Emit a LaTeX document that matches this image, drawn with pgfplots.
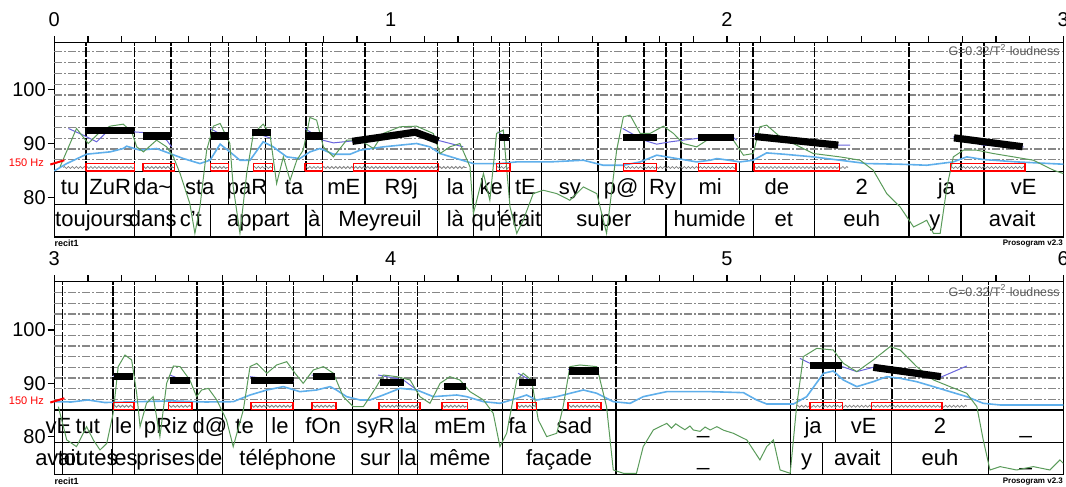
\documentclass[border=0pt]{standalone}
\usepackage{fontspec}
\setmainfont{Liberation Sans}
\usepackage{pgfplots}
\pgfplotsset{compat=1.18}
\usetikzlibrary{decorations.pathmorphing}
\definecolor{lblue}{RGB}{95,175,235}
\definecolor{pblue}{RGB}{105,100,220}
\definecolor{igreen}{RGB}{90,155,90}
\definecolor{gridg}{RGB}{135,135,135}
\newcommand\tierfont{\fontsize{11}{13}\selectfont}
\newcommand{\lab}[4]{\path (axis cs:#1,#3) -- (axis cs:#2,#3) node[midway,anchor=base,font=\tierfont,inner sep=0pt]{#4};}
\pgfplotsset{
  panel/.style={
    scale only axis, width=504.5pt, anchor=south west, clip=false,
    axis line style={line width=0.65pt}, every tick/.style={black,line width=0.6pt},
    xtick pos=right, xticklabel pos=right, ytick pos=left,
    minor x tick num=9, tick align=outside,
    major tick length=3.3pt, minor tick length=3.3pt,
    ytick={80,90,100},
    /pgf/number format/assume math mode=true,
    ticklabel style={font=\fontsize{10}{12}\selectfont},
    xticklabel style={yshift=1.3pt},
    yticklabel style={inner xsep=0.8pt},
  },
  gridl/.style={gridg, line width=0.6pt, dash pattern=on 4pt off 1pt on 1pt off 1pt, unbounded coords=jump},
  vdash/.style={black, line width=0.75pt, dash pattern=on 5pt off 0.7pt, unbounded coords=jump},
  tier/.style={black, line width=0.65pt, unbounded coords=jump},
  stylz/.style={black, line width=3.6pt, line cap=butt},
  nucl/.style={red, line width=0.8pt, unbounded coords=jump},
  zz/.style={gray, line width=0.4pt, decorate, decoration={zigzag, amplitude=0.5pt, segment length=2pt}},
}
\begin{document}
\begin{tikzpicture}
\useasboundingbox (0,0) rectangle (533pt,243.5pt);
% ================= TOP PANEL =================
\begin{axis}[panel, at={(27.15pt,125pt)}, height=97.15pt,
  xmin=0, xmax=3, ymin=72.66, ymax=108.7, xtick={0,1,2,3}]
\addplot[gridl] coordinates {(0,87)(3,87)(3,nan) (0,89)(3,89)(3,nan) (0,91)(3,91)(3,nan) (0,93)(3,93)(3,nan) (0,95)(3,95)(3,nan) (0,97)(3,97)(3,nan) (0,99)(3,99)(3,nan) (0,101)(3,101)(3,nan) (0,103)(3,103)(3,nan) (0,105)(3,105)(3,nan) (0,107)(3,107)};
\addplot[vdash] coordinates {(0.094,84.86)(0.094,108.7)(0.094,nan) (0.238,84.86)(0.238,108.7)(0.238,nan) (0.347,84.86)(0.347,108.7)(0.347,nan) (0.465,84.86)(0.465,108.7)(0.465,nan) (0.518,84.86)(0.518,108.7)(0.518,nan) (0.628,84.86)(0.628,108.7)(0.628,nan) (0.748,84.86)(0.748,108.7)(0.748,nan) (0.798,84.86)(0.798,108.7)(0.798,nan) (0.924,84.86)(0.924,108.7)(0.924,nan) (1.139,84.86)(1.139,108.7)(1.139,nan) (1.246,84.86)(1.246,108.7)(1.246,nan) (1.323,84.86)(1.323,108.7)(1.323,nan) (1.353,84.86)(1.353,108.7)(1.353,nan) (1.449,84.86)(1.449,108.7)(1.449,nan) (1.617,84.86)(1.617,108.7)(1.617,nan) (1.754,84.86)(1.754,108.7)(1.754,nan) (1.819,84.86)(1.819,108.7)(1.819,nan) (1.863,84.86)(1.863,108.7)(1.863,nan) (2.037,84.86)(2.037,108.7)(2.037,nan) (2.078,84.86)(2.078,108.7)(2.078,nan) (2.260,84.86)(2.260,108.7)(2.260,nan) (2.541,84.86)(2.541,108.7)(2.541,nan) (2.696,84.86)(2.696,108.7)(2.696,nan) (2.764,84.86)(2.764,108.7)};
% tiers
\addplot[tier] coordinates {(0,84.86)(3,84.86)(3,nan) (0,78.7)(3,78.7)};
\addplot[tier] coordinates {(0.094,84.86)(0.094,78.7)(0.094,nan) (0.238,84.86)(0.238,78.7)(0.238,nan) (0.347,84.86)(0.347,78.7)(0.347,nan) (0.518,84.86)(0.518,78.7)(0.518,nan) (0.628,84.86)(0.628,78.7)(0.628,nan) (0.798,84.86)(0.798,78.7)(0.798,nan) (0.924,84.86)(0.924,78.7)(0.924,nan) (1.139,84.86)(1.139,78.7)(1.139,nan) (1.246,84.86)(1.246,78.7)(1.246,nan) (1.353,84.86)(1.353,78.7)(1.353,nan) (1.449,84.86)(1.449,78.7)(1.449,nan) (1.617,84.86)(1.617,78.7)(1.617,nan) (1.754,84.86)(1.754,78.7)(1.754,nan) (1.863,84.86)(1.863,78.7)(1.863,nan) (2.037,84.86)(2.037,78.7)(2.037,nan) (2.260,84.86)(2.260,78.7)(2.260,nan) (2.541,84.86)(2.541,78.7)(2.541,nan) (2.764,84.86)(2.764,78.7)};
\addplot[tier] coordinates {(0.238,78.7)(0.238,72.66)(0.238,nan) (0.347,78.7)(0.347,72.66)(0.347,nan) (0.465,78.7)(0.465,72.66)(0.465,nan) (0.748,78.7)(0.748,72.66)(0.748,nan) (0.798,78.7)(0.798,72.66)(0.798,nan) (1.139,78.7)(1.139,72.66)(1.139,nan) (1.246,78.7)(1.246,72.66)(1.246,nan) (1.323,78.7)(1.323,72.66)(1.323,nan) (1.449,78.7)(1.449,72.66)(1.449,nan) (1.819,78.7)(1.819,72.66)(1.819,nan) (2.078,78.7)(2.078,72.66)(2.078,nan) (2.260,78.7)(2.260,72.66)(2.260,nan) (2.541,78.7)(2.541,72.66)(2.541,nan) (2.696,78.7)(2.696,72.66)};
\lab{0}{0.094}{80.6}{tu}
\lab{0.094}{0.238}{80.6}{ZuR}
\lab{0.238}{0.347}{80.6}{da\textasciitilde}
\lab{0.347}{0.518}{80.6}{sta}
\lab{0.518}{0.628}{80.6}{paR}
\lab{0.628}{0.798}{80.6}{ta}
\lab{0.798}{0.924}{80.6}{mE}
\lab{0.924}{1.139}{80.6}{R9j}
\lab{1.139}{1.246}{80.6}{la}
\lab{1.246}{1.353}{80.6}{ke}
\lab{1.353}{1.449}{80.6}{tE}
\lab{1.449}{1.617}{80.6}{sy}
\lab{1.617}{1.754}{80.6}{p@}
\lab{1.754}{1.863}{80.6}{Ry}
\lab{1.863}{2.037}{80.6}{mi}
\lab{2.037}{2.260}{80.6}{de}
\lab{2.260}{2.541}{80.6}{2}
\lab{2.541}{2.764}{80.6}{ja}
\lab{2.764}{3}{80.6}{vE}
\lab{0}{0.238}{74.65}{toujours}
\lab{0.238}{0.347}{74.65}{dans}
\lab{0.347}{0.465}{74.65}{c't}
\lab{0.465}{0.748}{74.65}{appart}
\lab{0.748}{0.798}{74.65}{à}
\lab{0.798}{1.139}{74.65}{Meyreuil}
\lab{1.139}{1.246}{74.65}{là}
\lab{1.246}{1.323}{74.65}{qu'}
\lab{1.323}{1.449}{74.65}{était}
\lab{1.449}{1.819}{74.65}{super}
\lab{1.819}{2.078}{74.65}{humide}
\lab{2.078}{2.260}{74.65}{et}
\lab{2.260}{2.541}{74.65}{euh}
\lab{2.541}{2.696}{74.65}{y}
\lab{2.696}{3}{74.65}{avait}
% light blue
\addplot[lblue, line width=0.8pt] coordinates {(0,84.92)(0.037,86.28)(0.096,88.02)(0.166,88.45)(0.205,89.07)(0.215,89.5)(0.255,88.76)(0.304,89.07)(0.344,88.14)(0.384,87.21)(0.433,86.28)(0.463,86.9)(0.493,89.88)(0.522,88.45)(0.552,86.9)(0.582,86.9)(0.621,90.31)(0.651,89.38)(0.691,87.52)(0.730,87.21)(0.760,88.45)(0.790,89.07)(0.830,88.02)(0.879,88.0)(0.909,88.76)(0.978,89.38)(1.077,90.0)(1.117,89.38)(1.147,88.14)(1.196,87.21)(1.246,86.28)(1.325,86.28)(1.375,86.59)(1.474,86.59)(1.573,86.9)(1.632,85.97)(1.692,85.97)(1.742,86.59)(1.791,87.83)(1.851,87.21)(1.910,86.59)(1.950,86.9)(1.970,87.21)(2.039,86.59)(2.078,86.9)(2.118,88.26)(2.168,88.02)(2.257,87.52)(2.336,86.9)(2.415,86.28)(2.515,86.16)(2.594,85.97)(2.673,86.59)(2.713,87.52)(2.762,87.03)(2.862,86.59)(3.0,86.16)};
% purple raw f0
\addplot[pblue, line width=0.5pt, unbounded coords=jump] coordinates {(0.042,92.79)(0.086,91.55)(0.126,90.31)(0.156,92.17)(0.234,92.17)(0.304,91.86)(0.334,90.62)(0.349,89.38)(0.349,nan)
(0.463,92.79)(0.518,90.93)(0.518,nan)
(0.589,92.17)(0.646,90.93)(0.646,nan)
(0.745,92.79)(0.798,90.62)(0.830,90.12)(0.909,90.62)(0.929,90.62)(1.077,92.17)(1.139,90.62)(1.216,89.38)(1.216,nan)
(1.318,92.17)(1.353,90.62)(1.353,nan)
(1.690,92.79)(1.752,90.62)(1.791,89.88)(1.831,90.31)(1.870,90.62)(1.950,91.24)(2.019,91.11)(2.029,90.62)(2.029,nan)
(2.078,91.55)(2.331,89.69)(2.366,89.69)(2.366,nan)
(2.673,91.24)(2.762,89.69)(2.882,89.38)};
% green intensity
\addplot[igreen, line width=0.5pt] coordinates {(0.017,85.67)(0.066,92.79)(0.101,90.0)(0.136,92.17)(0.166,93.22)(0.205,93.59)(0.230,92.17)(0.245,89.38)(0.265,88.45)(0.304,90.62)(0.334,89.38)(0.354,87.52)(0.374,84.43)(0.403,78.85)(0.418,73.33)(0.433,78.23)(0.453,88.76)(0.473,93.22)(0.493,93.72)(0.522,90.0)(0.532,81.95)(0.552,73.33)(0.572,84.43)(0.592,91.86)(0.621,93.59)(0.641,91.86)(0.661,82.57)(0.681,87.52)(0.701,83.19)(0.721,86.9)(0.740,88.76)(0.760,94.83)(0.780,94.33)(0.800,89.38)(0.830,87.52)(0.869,90.62)(0.909,90.62)(0.949,89.07)(0.978,91.86)(1.028,93.10)(1.077,93.22)(1.127,91.86)(1.147,88.14)(1.176,89.38)(1.206,90.0)(1.236,85.67)(1.246,76.99)(1.276,84.43)(1.295,79.47)(1.315,91.86)(1.335,92.48)(1.355,78.23)(1.375,73.33)(1.394,75.76)(1.424,80.71)(1.454,81.33)(1.494,80.71)(1.533,79.47)(1.573,81.95)(1.613,80.71)(1.642,73.33)(1.672,88.76)(1.692,94.95)(1.712,95.26)(1.742,91.86)(1.771,91.86)(1.811,93.22)(1.841,91.86)(1.870,90.0)(1.910,89.38)(1.950,91.0)(1.980,91.11)(2.019,90.62)(2.049,87.83)(2.078,88.14)(2.098,93.10)(2.118,93.41)(2.158,91.24)(2.217,89.38)(2.257,88.14)(2.336,87.52)(2.396,86.9)(2.435,85.05)(2.475,80.71)(2.515,78.23)(2.555,74.52)(2.594,75.76)(2.614,73.33)(2.634,73.33)(2.654,81.95)(2.673,87.52)(2.703,88.76)(2.743,88.76)(2.792,88.14)(2.852,87.52)(2.911,86.9)(2.971,85.05)(3.0,84.43)};
% stylized tones
\addplot[stylz] coordinates {(0.098,92.45)(0.238,92.45)};
\addplot[stylz] coordinates {(0.263,91.4)(0.347,91.4)};
\addplot[stylz] coordinates {(0.465,91.4)(0.518,91.4)};
\addplot[stylz] coordinates {(0.589,92.1)(0.644,92.1)};
\addplot[stylz] coordinates {(0.745,91.4)(0.798,91.4)};
\addplot[stylz, line join=round] coordinates {(0.886,90.4)(1.073,92.1)(1.142,90.5)};
\addplot[stylz] coordinates {(1.323,91.1)(1.353,91.1)};
\addplot[stylz] coordinates {(1.690,91.1)(1.791,91.1)};
\addplot[stylz] coordinates {(1.915,91.1)(2.022,91.1)};
\addplot[stylz] coordinates {(2.083,91.3)(2.331,89.7)};
\addplot[stylz] coordinates {(2.675,91.05)(2.879,89.4)};
% nuclei
\addplot[zz] coordinates {(0.027,85.55)(0.094,85.55)};
\addplot[zz] coordinates {(0.094,85.55)(0.238,85.55)};
\addplot[zz] coordinates {(0.263,85.55)(0.357,85.55)};
\addplot[zz] coordinates {(0.465,85.55)(0.518,85.55)};
\addplot[zz] coordinates {(0.592,85.55)(0.649,85.55)};
\addplot[zz] coordinates {(0.745,85.55)(0.798,85.55)};
\addplot[zz] coordinates {(0.798,85.55)(1.226,85.55)};
\addplot[zz] coordinates {(1.315,85.55)(1.355,85.55)};
\addplot[zz] coordinates {(1.692,85.55)(2.027,85.55)};
\addplot[zz] coordinates {(2.080,85.55)(2.360,85.55)};
\addplot[zz] coordinates {(2.665,85.55)(2.886,85.55)};
\addplot[nucl] coordinates {(0.094,84.86)(0.238,84.86)(0.238,86.3)(0.094,86.3)(0.094,84.86)(0.094,nan)
(0.263,84.86)(0.357,84.86)(0.357,86.3)(0.263,86.3)(0.263,84.86)(0.263,nan)
(0.465,84.86)(0.518,84.86)(0.518,86.3)(0.465,86.3)(0.465,84.86)(0.465,nan)
(0.592,84.86)(0.649,84.86)(0.649,86.3)(0.592,86.3)(0.592,84.86)(0.592,nan)
(0.745,84.86)(0.798,84.86)(0.798,86.3)(0.745,86.3)(0.745,84.86)(0.745,nan)
(0.889,84.86)(1.142,84.86)(1.142,86.3)(0.889,86.3)(0.889,84.86)(0.889,nan)
(1.315,84.86)(1.355,84.86)(1.355,86.3)(1.315,86.3)(1.315,84.86)(1.315,nan)
(1.692,84.86)(1.791,84.86)(1.791,86.3)(1.692,86.3)(1.692,84.86)(1.692,nan)
(1.915,84.86)(2.027,84.86)(2.027,86.3)(1.915,86.3)(1.915,84.86)(1.915,nan)
(2.080,84.86)(2.334,84.86)(2.334,86.3)(2.080,86.3)(2.080,84.86)(2.080,nan)
(2.665,84.86)(2.886,84.86)(2.886,86.3)(2.665,86.3)(2.665,84.86)};
\addplot[red, line width=1pt] coordinates {(-0.012,86.1)(0.03,86.9)};
\node[red, anchor=east, font=\fontsize{5.5}{6}\selectfont, inner sep=0pt] at (axis cs:-0.03,86.5) {150 Hz};
\node[gray!70!black, anchor=east, font=\fontsize{6.2}{7}\selectfont, inner sep=0pt] at (axis cs:2.99,107.3) {G=0.32/T\textsuperscript{2} loudness};
\node[anchor=north west, font=\bfseries\fontsize{4.5}{5}\selectfont, inner sep=0pt] at (axis cs:0,72.2) {recit1};
\node[anchor=north east, font=\bfseries\fontsize{4}{5}\selectfont, inner sep=0pt] at (axis cs:3,72.2) {Prosogram v2.3};
\end{axis}
% ================= BOTTOM PANEL =================
\begin{axis}[panel, at={(27.15pt,6.35pt)}, height=96.3pt,
  xmin=3, xmax=6, ymin=72.94, ymax=109.06, xtick={3,4,5,6}]
\addplot[gridl] coordinates {(3,87)(6,87)(6,nan) (3,89)(6,89)(6,nan) (3,91)(6,91)(6,nan) (3,93)(6,93)(6,nan) (3,95)(6,95)(6,nan) (3,97)(6,97)(6,nan) (3,99)(6,99)(6,nan) (3,101)(6,101)(6,nan) (3,103)(6,103)(6,nan) (3,105)(6,105)(6,nan) (3,107)(6,107)};
\addplot[vdash] coordinates {(3.025,85.0)(3.025,109.06)(3.025,nan) (3.174,85.0)(3.174,109.06)(3.174,nan) (3.238,85.0)(3.238,109.06)(3.238,nan) (3.425,85.0)(3.425,109.06)(3.425,nan) (3.501,85.0)(3.501,109.06)(3.501,nan) (3.631,85.0)(3.631,109.06)(3.631,nan) (3.711,85.0)(3.711,109.06)(3.711,nan) (3.887,85.0)(3.887,109.06)(3.887,nan) (4.023,85.0)(4.023,109.06)(4.023,nan) (4.080,85.0)(4.080,109.06)(4.080,nan) (4.332,85.0)(4.332,109.06)(4.332,nan) (4.422,85.0)(4.422,109.06)(4.422,nan) (4.670,85.0)(4.670,109.06)(4.670,nan) (5.189,85.0)(5.189,109.06)(5.189,nan) (5.285,85.0)(5.285,109.06)(5.285,nan) (5.323,85.0)(5.323,109.06)(5.323,nan) (5.490,85.0)(5.490,109.06)(5.490,nan) (5.777,85.0)(5.777,109.06)};
\addplot[tier] coordinates {(3,85.0)(6,85.0)(6,nan) (3,78.88)(6,78.88)};
\addplot[tier] coordinates {(3.025,85.0)(3.025,78.88)(3.025,nan) (3.174,85.0)(3.174,78.88)(3.174,nan) (3.238,85.0)(3.238,78.88)(3.238,nan) (3.425,85.0)(3.425,78.88)(3.425,nan) (3.501,85.0)(3.501,78.88)(3.501,nan) (3.631,85.0)(3.631,78.88)(3.631,nan) (3.711,85.0)(3.711,78.88)(3.711,nan) (3.887,85.0)(3.887,78.88)(3.887,nan) (4.023,85.0)(4.023,78.88)(4.023,nan) (4.080,85.0)(4.080,78.88)(4.080,nan) (4.332,85.0)(4.332,78.88)(4.332,nan) (4.422,85.0)(4.422,78.88)(4.422,nan) (4.670,85.0)(4.670,78.88)(4.670,nan) (5.189,85.0)(5.189,78.88)(5.189,nan) (5.323,85.0)(5.323,78.88)(5.323,nan) (5.490,85.0)(5.490,78.88)(5.490,nan) (5.777,85.0)(5.777,78.88)};
\addplot[tier] coordinates {(3.025,78.88)(3.025,72.94)(3.025,nan) (3.174,78.88)(3.174,72.94)(3.174,nan) (3.238,78.88)(3.238,72.94)(3.238,nan) (3.425,78.88)(3.425,72.94)(3.425,nan) (3.501,78.88)(3.501,72.94)(3.501,nan) (3.887,78.88)(3.887,72.94)(3.887,nan) (4.023,78.88)(4.023,72.94)(4.023,nan) (4.080,78.88)(4.080,72.94)(4.080,nan) (4.332,78.88)(4.332,72.94)(4.332,nan) (4.670,78.88)(4.670,72.94)(4.670,nan) (5.189,78.88)(5.189,72.94)(5.189,nan) (5.285,78.88)(5.285,72.94)(5.285,nan) (5.490,78.88)(5.490,72.94)(5.490,nan) (5.777,78.88)(5.777,72.94)};
\lab{3}{3.025}{80.5}{vE}
\lab{3.025}{3.174}{80.5}{tut}
\lab{3.174}{3.238}{80.5}{le}
\lab{3.238}{3.425}{80.5}{pRiz}
\lab{3.425}{3.501}{80.5}{d@}
\lab{3.501}{3.631}{80.5}{te}
\lab{3.631}{3.711}{80.5}{le}
\lab{3.711}{3.887}{80.5}{fOn}
\lab{3.887}{4.023}{80.5}{syR}
\lab{4.023}{4.080}{80.5}{la}
\lab{4.080}{4.332}{80.5}{mEm}
\lab{4.332}{4.422}{80.5}{fa}
\lab{4.422}{4.670}{80.5}{sad}
\lab{4.670}{5.189}{80.5}{\_}
\lab{5.189}{5.323}{80.5}{ja}
\lab{5.323}{5.490}{80.5}{vE}
\lab{5.490}{5.777}{80.5}{2}
\lab{5.777}{6}{80.5}{\_}
\lab{3}{3.025}{74.5}{avait}
\lab{3.025}{3.174}{74.5}{toutes}
\lab{3.174}{3.238}{74.5}{les}
\lab{3.238}{3.425}{74.5}{prises}
\lab{3.425}{3.501}{74.5}{de}
\lab{3.501}{3.887}{74.5}{téléphone}
\lab{3.887}{4.023}{74.5}{sur}
\lab{4.023}{4.080}{74.5}{la}
\lab{4.080}{4.332}{74.5}{même}
\lab{4.332}{4.670}{74.5}{façade}
\lab{4.670}{5.189}{74.5}{\_}
\lab{5.189}{5.285}{74.5}{y}
\lab{5.285}{5.490}{74.5}{avait}
\lab{5.490}{5.777}{74.5}{euh}
\lab{5.777}{6}{74.5}{\_}
% light blue
\addplot[lblue, line width=0.8pt] coordinates {(3.0,86.56)(3.05,86.5)(3.1,86.88)(3.15,86.4)(3.25,86.56)(3.35,86.7)(3.45,86.5)(3.532,86.56)(3.582,87.81)(3.632,88.75)(3.681,89.38)(3.730,88.44)(3.780,88.75)(3.820,89.38)(3.839,88.75)(3.869,87.5)(3.909,86.88)(3.939,86.88)(3.978,87.81)(4.028,89.06)(4.078,88.75)(4.127,87.5)(4.197,87.81)(4.226,87.5)(4.276,86.56)(4.325,86.25)(4.375,87.19)(4.404,87.81)(4.434,86.88)(4.494,87.5)(4.573,88.75)(4.613,88.13)(4.662,86.56)(4.712,86.25)(4.751,87.5)(4.821,88.44)(4.950,88.44)(5.049,88.25)(5.088,86.88)(5.118,86.13)(5.198,86.13)(5.237,87.5)(5.287,91.88)(5.316,92.31)(5.346,90.63)(5.386,89.38)(5.435,90.31)(5.475,91.25)(5.515,90.94)(5.564,90.31)(5.614,89.38)(5.663,88.44)(5.713,87.5)(5.762,86.25)(5.812,85.94)(6.0,85.94)};
% purple
\addplot[pblue, line width=0.5pt, unbounded coords=jump] coordinates {(3.175,91.38)(3.233,91.25)(3.233,nan)
(3.344,91.56)(3.403,90.0)(3.403,nan)
(3.582,91.25)(3.711,90.31)(3.711,nan)
(3.765,91.56)(3.834,90.94)(3.834,nan)
(3.963,91.56)(4.038,90.63)(4.078,88.75)(4.078,nan)
(4.158,89.69)(4.224,89.38)(4.224,nan)
(4.379,91.88)(4.431,90.0)(4.431,nan)
(4.528,92.63)(4.620,92.19)(4.620,nan)
(5.217,94.69)(5.247,93.75)(5.343,93.13)(5.386,92.19)(5.435,93.0)(5.635,91.13)(5.713,93.25)};
% green
\addplot[igreen, line width=0.5pt] coordinates {(3.012,85.63)(3.027,81.88)(3.037,79.38)(3.066,78.13)(3.096,81.88)(3.116,79.38)(3.136,77.5)(3.156,78.75)(3.175,84.38)(3.190,93.13)(3.210,95.31)(3.230,94.38)(3.245,88.13)(3.255,81.88)(3.274,86.25)(3.294,87.5)(3.314,80.0)(3.334,90.0)(3.354,93.25)(3.374,93.13)(3.403,90.63)(3.423,87.5)(3.438,88.75)(3.458,89.06)(3.483,86.88)(3.512,83.13)(3.532,78.13)(3.562,85.0)(3.582,93.13)(3.602,93.75)(3.632,91.88)(3.661,93.44)(3.691,94.06)(3.716,91.88)(3.740,90.0)(3.770,92.5)(3.800,93.13)(3.830,91.88)(3.859,87.5)(3.889,85.63)(3.919,85.63)(3.958,89.38)(3.978,91.56)(4.018,91.25)(4.058,90.63)(4.087,87.5)(4.117,86.25)(4.147,90.0)(4.176,91.25)(4.206,90.63)(4.236,88.44)(4.276,86.88)(4.305,84.38)(4.325,78.13)(4.345,80.63)(4.375,90.63)(4.394,91.88)(4.419,90.63)(4.439,83.13)(4.464,80.0)(4.494,80.63)(4.513,85.63)(4.533,93.13)(4.563,93.44)(4.613,93.13)(4.642,85.63)(4.662,73.75)(4.692,73.13)(4.731,73.13)(4.751,78.13)(4.781,81.25)(4.821,82.5)(4.835,81.6)(4.848,82.4)(4.860,81.88)(4.875,81.3)(4.89,82.0)(4.900,81.25)(4.92,81.0)(4.935,81.8)(4.950,81.25)(4.970,81.88)(4.99,81.2)(5.019,80.63)(5.059,79.38)(5.098,75.63)(5.118,78.13)(5.138,79.38)(5.158,73.75)(5.188,73.13)(5.207,85.63)(5.227,95.0)(5.267,96.56)(5.316,96.25)(5.346,93.75)(5.386,92.19)(5.435,94.38)(5.485,96.88)(5.515,96.25)(5.564,93.13)(5.614,90.63)(5.663,89.38)(5.713,88.13)(5.743,85.63)(5.762,79.38)(5.782,73.75)(5.812,74.38)(5.861,73.75)(5.911,74.38)(5.960,73.75)(5.990,75.63)(6.0,75.0)};
% stylized
\addplot[stylz] coordinates {(3.178,91.25)(3.233,91.25)};
\addplot[stylz] coordinates {(3.344,90.5)(3.403,90.5)};
\addplot[stylz] coordinates {(3.584,90.5)(3.711,90.5)};
\addplot[stylz] coordinates {(3.768,91.25)(3.835,91.25)};
\addplot[stylz] coordinates {(3.968,90.2)(4.041,90.2)};
\addplot[stylz] coordinates {(4.159,89.4)(4.224,89.4)};
\addplot[stylz] coordinates {(4.382,90.1)(4.431,90.1)};
\addplot[stylz] coordinates {(4.530,92.3)(4.620,92.3)};
\addplot[stylz] coordinates {(5.247,93.3)(5.343,93.3)};
\addplot[stylz] coordinates {(5.435,93.0)(5.636,91.25)};
% nuclei
\addplot[zz] coordinates {(3.176,85.7)(3.237,85.7)};
\addplot[zz] coordinates {(3.339,85.7)(3.409,85.7)};
\addplot[zz] coordinates {(3.584,85.7)(3.709,85.7)};
\addplot[zz] coordinates {(3.767,85.7)(3.838,85.7)};
\addplot[zz] coordinates {(3.966,85.7)(4.087,85.7)};
\addplot[zz] coordinates {(4.152,85.7)(4.229,85.7)};
\addplot[zz] coordinates {(4.375,85.7)(4.434,85.7)};
\addplot[zz] coordinates {(4.528,85.7)(4.625,85.7)};
\addplot[zz] coordinates {(5.207,85.7)(5.713,85.7)};
\addplot[nucl] coordinates {(3.176,85.1)(3.237,85.1)(3.237,86.4)(3.176,86.4)(3.176,85.1)(3.176,nan)
(3.339,85.1)(3.409,85.1)(3.409,86.4)(3.339,86.4)(3.339,85.1)(3.339,nan)
(3.584,85.1)(3.709,85.1)(3.709,86.4)(3.584,86.4)(3.584,85.1)(3.584,nan)
(3.767,85.1)(3.838,85.1)(3.838,86.4)(3.767,86.4)(3.767,85.1)(3.767,nan)
(3.966,85.1)(4.087,85.1)(4.087,86.4)(3.966,86.4)(3.966,85.1)(3.966,nan)
(4.152,85.1)(4.229,85.1)(4.229,86.4)(4.152,86.4)(4.152,85.1)(4.152,nan)
(4.375,85.1)(4.434,85.1)(4.434,86.4)(4.375,86.4)(4.375,85.1)(4.375,nan)
(4.528,85.1)(4.625,85.1)(4.625,86.4)(4.528,86.4)(4.528,85.1)(4.528,nan)
(5.247,85.1)(5.343,85.1)(5.343,86.4)(5.247,86.4)(5.247,85.1)(5.247,nan)
(5.430,85.1)(5.640,85.1)(5.640,86.4)(5.430,86.4)(5.430,85.1)};
\addplot[red, line width=1pt] coordinates {(2.988,86.4)(3.03,87.2)};
\node[red, anchor=east, font=\fontsize{5.5}{6}\selectfont, inner sep=0pt] at (axis cs:2.97,86.8) {150 Hz};
\node[gray!70!black, anchor=east, font=\fontsize{6.2}{7}\selectfont, inner sep=0pt] at (axis cs:5.99,107.4) {G=0.32/T\textsuperscript{2} loudness};
\node[anchor=north west, font=\bfseries\fontsize{4.5}{5}\selectfont, inner sep=0pt] at (axis cs:3,72.4) {recit1};
\node[anchor=north east, font=\bfseries\fontsize{4}{5}\selectfont, inner sep=0pt] at (axis cs:6,72.4) {Prosogram v2.3};
\end{axis}
\end{tikzpicture}
\end{document}
